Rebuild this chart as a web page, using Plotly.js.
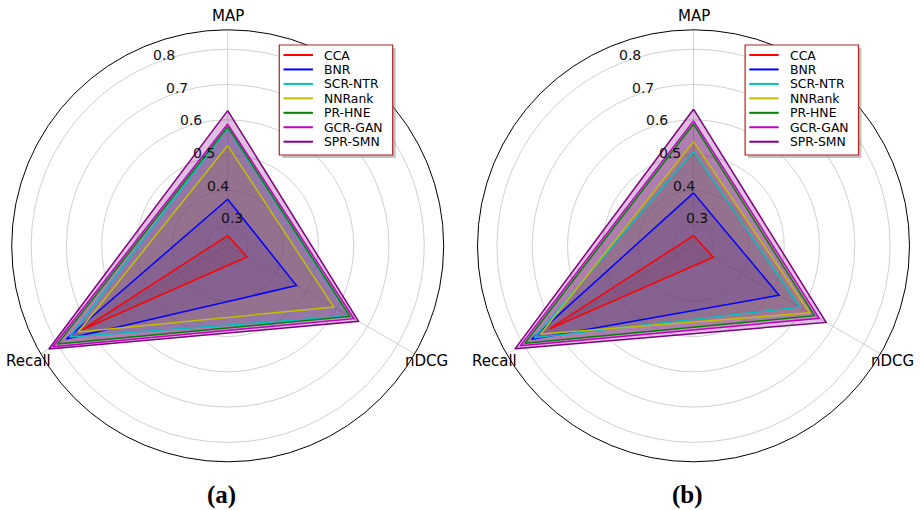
<!DOCTYPE html>
<html>
<head>
<meta charset="utf-8">
<script src="https://cdn.plot.ly/plotly-3.0.1.min.js"></script>
<style>html,body{margin:0;padding:0;background:#fff;}#chart{width:921px;height:510px;}</style>
</head>
<body>
<div id="chart"></div>
<script>
// ---- data ----
const categories = ['MAP', 'nDCG', 'Recall'];
const methods = ['CCA', 'BNR', 'SCR-NTR', 'NNRank', 'PR-HNE', 'GCR-GAN', 'SPR-SMN'];
const colors = ['#ff0000', '#0000ff', '#00bfbf', '#bfbf00', '#008000', '#bf00bf', '#800080'];

// panel (a)
const mapA    = [0.272, 0.375, 0.577, 0.527, 0.580, 0.588, 0.626];
const ndcgA   = [0.306, 0.468, 0.641, 0.590, 0.643, 0.656, 0.671];
const recallA = [0.717, 0.771, 0.760, 0.732, 0.800, 0.815, 0.828];
// panel (b)
const mapB    = [0.272, 0.393, 0.510, 0.538, 0.588, 0.597, 0.630];
const ndcgB   = [0.308, 0.523, 0.591, 0.623, 0.639, 0.654, 0.677];
const recallB = [0.713, 0.772, 0.764, 0.743, 0.795, 0.810, 0.827];

const radialTicks = [0.3, 0.4, 0.5, 0.6, 0.7, 0.8];
const panelLabels = ['(a)', '(b)'];

// ---- layout constants (pixels) ----
const W = 921, H = 510;
const CX = [227.7, 693.5], CY = 245.8, R = 216;
const RMIN = 0.243, RMAX = 0.855;
const LABEL_ANGLE = 112.5;
const px = x => x / W, py = y => 1 - y / H;

function rgba(hex, a) {
  const n = parseInt(hex.slice(1), 16);
  return `rgba(${(n >> 16) & 255},${(n >> 8) & 255},${n & 255},${a})`;
}

const panels = [
  {map: mapA, ndcg: ndcgA, recall: recallA, sub: 'polar'},
  {map: mapB, ndcg: ndcgB, recall: recallB, sub: 'polar2'}
];

const traces = [];
panels.forEach(p => {
  const closed = i => { const r = [p.map[i], p.ndcg[i], p.recall[i]]; return r.concat([r[0]]); };
  methods.forEach((m, i) => {
    traces.push({
      type: 'scatterpolar', subplot: p.sub, name: m + ' fill',
      r: closed(i), theta: categories.concat([categories[0]]),
      mode: 'none', fill: 'toself', fillcolor: rgba(colors[i], 0.25),
      showlegend: false, hoverinfo: 'skip'
    });
  });
  methods.forEach((m, i) => {
    traces.push({
      type: 'scatterpolar', subplot: p.sub, name: m,
      r: closed(i), theta: categories.concat([categories[0]]),
      mode: 'lines', line: {color: colors[i], width: 1.5},
      showlegend: false, hoverinfo: 'skip'
    });
  });
});

function polarLayout(k) {
  return {
    domain: {x: [px(CX[k] - R), px(CX[k] + R)], y: [py(CY + R), py(CY - R)]},
    bgcolor: '#ffffff',
    radialaxis: {
      range: [RMIN, RMAX],
      tickvals: radialTicks,
      showticklabels: false,
      angle: LABEL_ANGLE,
      showline: false,
      ticks: '',
      gridcolor: '#c4c4c4',
      gridwidth: 0.8
    },
    angularaxis: {
      type: 'category',
      categoryarray: categories,
      rotation: 90,
      direction: 'clockwise',
      showline: true,
      linecolor: '#000000',
      linewidth: 1,
      gridcolor: '#c4c4c4',
      gridwidth: 0.8,
      ticks: '',
      showticklabels: false
    }
  };
}

const annotations = [];
const shapes = [];
const labelR = 230;
const catAngles = categories.map((c, j) => 90 - j * 120);
const la = LABEL_ANGLE * Math.PI / 180;

CX.forEach((cx, k) => {
  // category labels
  categories.forEach((c, j) => {
    const a = catAngles[j] * Math.PI / 180;
    annotations.push({
      xref: 'paper', yref: 'paper',
      x: px(cx + labelR * Math.cos(a)), y: py(CY - labelR * Math.sin(a)),
      xanchor: 'center', yanchor: 'middle', showarrow: false,
      text: c, font: {family: 'DejaVu Sans', size: 15, color: '#000'}
    });
  });
  // radial tick labels along the 112.5 deg ray
  radialTicks.forEach(v => {
    const rp = (v - RMIN) / (RMAX - RMIN) * R;
    annotations.push({
      xref: 'paper', yref: 'paper',
      x: px(cx + rp * Math.cos(la) + 11.5), y: py(CY - rp * Math.sin(la) - 9),
      xanchor: 'center', yanchor: 'middle', showarrow: false, borderpad: 0,
      text: v.toFixed(1), font: {family: 'DejaVu Sans', size: 14, color: '#111'}
    });
  });
  // caption
  annotations.push({
    xref: 'paper', yref: 'paper', x: px(cx - 6.5), y: py(495),
    xanchor: 'center', yanchor: 'middle', showarrow: false,
    text: '<b>' + panelLabels[k] + '</b>',
    font: {family: 'Liberation Serif', size: 25, color: '#000'}
  });
  // legend
  const bx0 = cx + 51.6, bx1 = cx + 165, by0 = 45, by1 = 155;
  shapes.push({type: 'rect', xref: 'paper', yref: 'paper', layer: 'above',
    x0: px(bx0 + 3), x1: px(bx1 + 3), y0: py(by1 + 3), y1: py(by0 + 3),
    line: {width: 0}, fillcolor: 'rgba(120,120,120,0.45)'});
  shapes.push({type: 'rect', xref: 'paper', yref: 'paper', layer: 'above',
    x0: px(bx0), x1: px(bx1), y0: py(by1), y1: py(by0),
    line: {width: 1.2, color: '#b22222'}, fillcolor: '#ffffff'});
  methods.forEach((m, i) => {
    const yy = 55 + i * 14.45;
    shapes.push({type: 'line', xref: 'paper', yref: 'paper', layer: 'above',
      x0: px(cx + 55.8), x1: px(cx + 85.2), y0: py(yy), y1: py(yy),
      line: {color: colors[i], width: 2}});
    annotations.push({
      xref: 'paper', yref: 'paper', x: px(cx + 95.6), y: py(yy),
      xanchor: 'left', yanchor: 'middle', showarrow: false, borderpad: 0,
      text: m, font: {family: 'DejaVu Sans', size: 12.4, color: '#000'}
    });
  });
});

const layout = {
  width: W, height: H,
  margin: {l: 0, r: 0, t: 0, b: 0},
  paper_bgcolor: '#ffffff',
  showlegend: false,
  polar: polarLayout(0),
  polar2: polarLayout(1),
  annotations: annotations,
  shapes: shapes
};

Plotly.newPlot('chart', traces, layout, {displayModeBar: false, staticPlot: true});
</script>
</body>
</html>
